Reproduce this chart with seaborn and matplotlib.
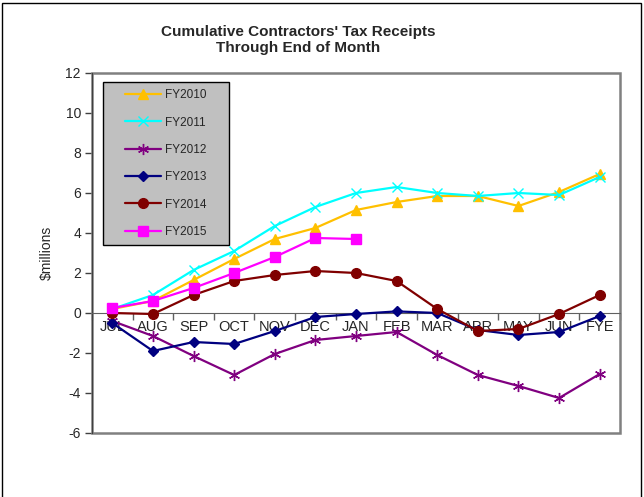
import numpy as np
import pandas as pd
import matplotlib
matplotlib.use("Agg")
import matplotlib.pyplot as plt
from matplotlib.patches import Rectangle
import seaborn as sns

# ---------------------------------------------------------------------------
# Data ($ millions)
# ---------------------------------------------------------------------------
months = ["JUL", "AUG", "SEP", "OCT", "NOV", "DEC", "JAN",
          "FEB", "MAR", "APR", "MAY", "JUN", "FYE"]

fy2010 = [0.2, 0.6, 1.65, 2.7, 3.7, 4.25, 5.15, 5.55, 5.85, 5.85, 5.35, 6.05, 6.95]
fy2011 = [0.2, 0.9, 2.15, 3.1, 4.35, 5.3, 6.0, 6.3, 6.0, 5.85, 6.0, 5.9, 6.8]
fy2012 = [-0.4, -1.15, -2.15, -3.1, -2.05, -1.35, -1.15, -0.95, -2.1, -3.1, -3.65, -4.25, -3.05]
fy2013 = [-0.5, -1.9, -1.45, -1.55, -0.9, -0.2, -0.05, 0.08, 0.0, -0.85, -1.1, -0.95, -0.15]
fy2014 = [0.0, -0.05, 0.9, 1.6, 1.9, 2.1, 2.0, 1.6, 0.2, -0.9, -0.8, -0.05, 0.9]
fy2015 = [0.25, 0.6, 1.25, 2.0, 2.8, 3.75, 3.7]

y_ticks = [-6, -4, -2, 0, 2, 4, 6, 8, 10, 12]

series = [
    ("FY2010", fy2010, "#FFC000", "^", 7),
    ("FY2011", fy2011, "#00FFFF", "x", 7),
    ("FY2012", fy2012, "#800080", (6, 2, 0), 8),
    ("FY2013", fy2013, "#000080", "D", 5.5),
    ("FY2014", fy2014, "#800000", "o", 7),
    ("FY2015", fy2015, "#FF00FF", "s", 7),
]

# ---------------------------------------------------------------------------
# Plot
# ---------------------------------------------------------------------------
sns.set_style("white")
plt.rcParams['font.family'] = ['Liberation Sans', 'DejaVu Sans']

fig = plt.figure(figsize=(6.44, 4.97), dpi=100)
ax = fig.add_axes([92 / 644, 64 / 497, 528 / 644, 360 / 497])

for name, vals, color, marker, ms in series:
    df = pd.DataFrame({"x": np.arange(len(vals)), "y": vals})
    sns.lineplot(data=df, x="x", y="y", ax=ax, color=color, marker=marker,
                 markersize=ms, markeredgecolor=color, markeredgewidth=1.0,
                 linewidth=1.6, label=name, zorder=3)

ax.set_xlim(-0.5, len(months) - 0.5)
ax.set_ylim(-6, 12)
ax.set_xlabel("")
ax.set_ylabel("$millions", fontsize=10, labelpad=8)

# y axis
ax.set_yticks(y_ticks)
ax.set_yticklabels([str(t) for t in y_ticks], fontsize=10)
ax.tick_params(axis="y", which="major", direction="out", length=5,
               width=1, color="#404040", left=True, pad=3)

# x axis drawn on the zero line, ticks between categories
ax.spines["bottom"].set_position(("data", 0))
ax.spines["bottom"].set_color("#606060")
ax.spines["left"].set_color("#404040")
ax.spines["top"].set_visible(False)
ax.spines["right"].set_visible(False)
ax.set_xticks(np.arange(len(months) + 1) - 0.5)
ax.set_xticklabels([])
ax.set_xticks(np.arange(len(months)), minor=True)
ax.set_xticklabels(months, minor=True, fontsize=10.5)
ax.tick_params(axis="x", which="major", direction="out", length=5,
               width=1, color="#606060", bottom=True)
ax.tick_params(axis="x", which="minor", length=0, pad=5)

# plot area border
ax.add_patch(Rectangle((0, 0), 1, 1, transform=ax.transAxes, fill=False,
                       edgecolor="#808080", linewidth=1.8, zorder=1,
                       clip_on=False))

# legend box
ax.add_patch(Rectangle((0.0214, 0.522), 0.238, 0.4536, transform=ax.transAxes,
                       facecolor="#C0C0C0", edgecolor="black", linewidth=1,
                       zorder=2))
ax.legend(loc="upper left", bbox_to_anchor=(0.062, 0.955), frameon=False,
          fontsize=8.5, handlelength=3.1, handletextpad=0.3, labelspacing=1.3,
          borderpad=0, borderaxespad=0)

fig.text(0.463, 0.919, "Cumulative Contractors' Tax Receipts\nThrough End of Month",
         ha="center", va="center", fontsize=11, fontweight="bold",
         linespacing=1.15)

# outer chart border
fig.patches.append(Rectangle((2 / 644, -0.01), 639 / 644, 1.004, transform=fig.transFigure,
                             fill=False, edgecolor="black", linewidth=1))

fig.savefig("out.png", dpi=100)
